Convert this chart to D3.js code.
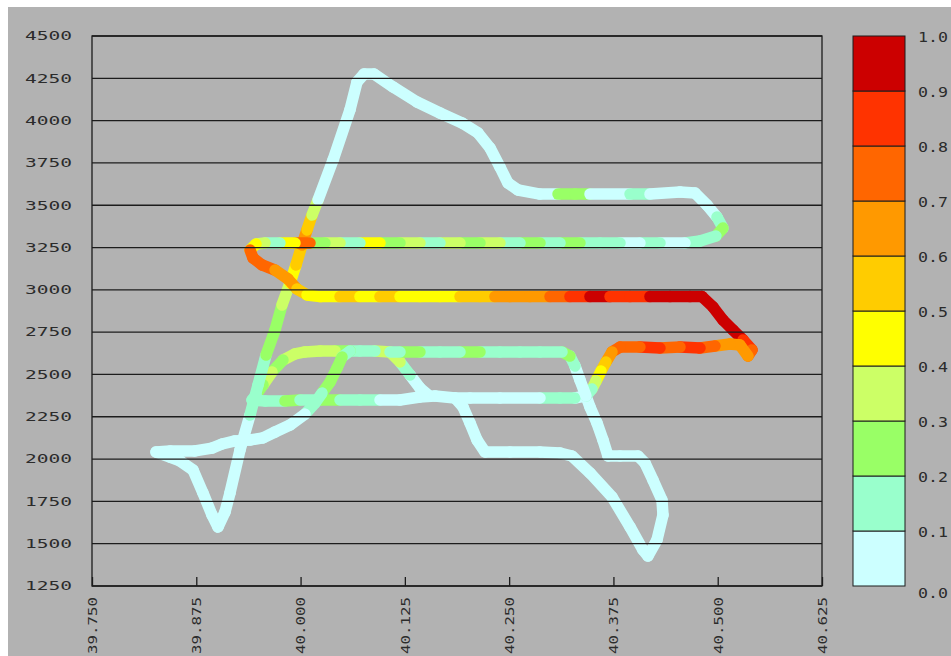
<!DOCTYPE html>
<html>
<head>
<meta charset="utf-8">
<script src="https://cdn.jsdelivr.net/npm/d3@7"></script>
<style>
  html, body { margin: 0; padding: 0; background: #ffffff; overflow: hidden; }
  svg { display: block; }
</style>
</head>
<body>
<svg id="chart" width="951" height="656"></svg>
<script>
// Axis ticks
const xTicks = [39.750, 39.875, 40.000, 40.125, 40.250, 40.375, 40.500, 40.625];
const yTicks = [1250, 1500, 1750, 2000, 2250, 2500, 2750, 3000, 3250, 3500, 3750, 4000, 4250, 4500];

// Colour classes of the value scale
const colorBreaks = [0.1, 0.2, 0.3, 0.4, 0.5, 0.6, 0.7, 0.8, 0.9];
const binColors = ["#ccffff", "#99ffcc", "#99ff66", "#ccff66", "#ffff00",
                   "#ffcc00", "#ff9900", "#ff6600", "#ff3300", "#cc0000"];
const legendLabels = [0.0, 0.1, 0.2, 0.3, 0.4, 0.5, 0.6, 0.7, 0.8, 0.9, 1.0];

// Track samples: [latitude, altitude, value]
const trackA = [
  [40.0592, 2639, 0.17], [40.0497, 2603, 0.25], [40.0437, 2538, 0.25], [40.0353, 2455, 0.25],
  [40.0257, 2390, 0.15], [40.0173, 2331, 0.12], [40.0053, 2266, 0.05], [39.9873, 2201, 0.05],
  [39.9694, 2160, 0.05], [39.9550, 2125, 0.05], [39.9394, 2113, 0.05], [39.9214, 2107, 0.05],
  [39.9058, 2089, 0.05], [39.8938, 2065, 0.05], [39.8735, 2048, 0.05], [39.8435, 2048, 0.05],
  [39.8267, 2042, 0.05], [39.8435, 2012, 0.05], [39.8555, 1989, 0.05], [39.8711, 1935, 0.05],
  [39.8830, 1800, 0.05], [39.8938, 1670, 0.05], [39.9010, 1599, 0.05], [39.9094, 1687, 0.05],
  [39.9154, 1800, 0.05], [39.9274, 2054, 0.05], [39.9394, 2260, 0.15], [39.9490, 2438, 0.15],
  [39.9586, 2615, 0.25], [39.9694, 2763, 0.25], [39.9777, 2910, 0.35], [39.9873, 3040, 0.45],
  [39.9945, 3147, 0.55], [40.0017, 3265, 0.65], [40.0077, 3354, 0.55], [40.0137, 3442, 0.35],
  [40.0209, 3531, 0.05], [40.0389, 3767, 0.05], [40.0592, 4063, 0.05], [40.0676, 4228, 0.05],
  [40.0760, 4275, 0.05], [40.0880, 4275, 0.05], [40.1108, 4199, 0.05], [40.1396, 4110, 0.05],
  [40.1671, 4045, 0.05], [40.1935, 3986, 0.05], [40.2127, 3927, 0.05], [40.2271, 3838, 0.05],
  [40.2390, 3726, 0.05], [40.2486, 3631, 0.05], [40.2606, 3590, 0.05], [40.2870, 3566, 0.05],
  [40.3086, 3566, 0.25], [40.3289, 3566, 0.22], [40.3469, 3566, 0.05], [40.3949, 3566, 0.15],
  [40.4188, 3566, 0.05], [40.4548, 3578, 0.05], [40.4728, 3572, 0.05], [40.4872, 3501, 0.05],
  [40.4991, 3430, 0.15], [40.5063, 3365, 0.25], [40.4979, 3318, 0.18], [40.4788, 3289, 0.15],
  [40.4608, 3277, 0.05], [40.4308, 3277, 0.15], [40.4068, 3277, 0.05], [40.3829, 3277, 0.18],
  [40.3589, 3277, 0.15], [40.3349, 3277, 0.25], [40.3110, 3277, 0.18], [40.2870, 3277, 0.28],
  [40.2630, 3277, 0.15], [40.2390, 3277, 0.35], [40.2151, 3277, 0.25], [40.1911, 3277, 0.32],
  [40.1671, 3277, 0.15], [40.1431, 3277, 0.35], [40.1192, 3277, 0.25], [40.0952, 3277, 0.45],
  [40.0712, 3277, 0.15], [40.0473, 3277, 0.35], [40.0293, 3277, 0.25], [40.0113, 3277, 0.75],
  [39.9933, 3277, 0.45], [39.9753, 3277, 0.15], [39.9574, 3277, 0.35], [39.9466, 3271, 0.45],
  [39.9394, 3235, 0.75], [39.9430, 3188, 0.78], [39.9538, 3147, 0.72], [39.9694, 3117, 0.68],
  [39.9849, 3064, 0.62], [39.9957, 3005, 0.58], [40.0077, 2970, 0.48], [40.0233, 2960, 0.45],
  [40.0473, 2960, 0.58], [40.0712, 2960, 0.45], [40.0952, 2960, 0.55], [40.1192, 2960, 0.45],
  [40.1431, 2960, 0.48], [40.1671, 2960, 0.45], [40.1911, 2960, 0.55], [40.2151, 2960, 0.52],
  [40.2330, 2960, 0.62], [40.2510, 2960, 0.65], [40.2750, 2960, 0.68], [40.2990, 2960, 0.75],
  [40.3229, 2960, 0.82], [40.3469, 2960, 0.92], [40.3709, 2960, 0.85], [40.3949, 2960, 0.88],
  [40.4188, 2960, 0.92], [40.4428, 2960, 0.95], [40.4668, 2960, 0.95], [40.4812, 2960, 0.95],
  [40.4943, 2899, 0.95], [40.5063, 2822, 0.95], [40.5183, 2763, 0.92], [40.5303, 2704, 0.85],
  [40.5411, 2645, 0.72], [40.5363, 2609, 0.68], [40.5267, 2674, 0.65], [40.5147, 2680, 0.65],
  [40.4968, 2668, 0.78], [40.4788, 2656, 0.82], [40.4548, 2662, 0.78], [40.4308, 2656, 0.85],
  [40.4068, 2662, 0.78], [40.3829, 2662, 0.75], [40.3733, 2633, 0.68], [40.3661, 2574, 0.55],
  [40.3601, 2520, 0.45], [40.3541, 2461, 0.35], [40.3493, 2414, 0.15], [40.3421, 2373, 0.05],
  [40.3349, 2467, 0.05], [40.3289, 2550, 0.12], [40.3229, 2609, 0.25], [40.3134, 2633, 0.18],
  [40.2870, 2633, 0.15], [40.2630, 2633, 0.17], [40.2390, 2633, 0.15], [40.2151, 2633, 0.25],
  [40.1911, 2633, 0.15], [40.1671, 2633, 0.15], [40.1431, 2633, 0.25], [40.1192, 2633, 0.17],
  [40.1072, 2633, 0.30]
];

const trackB = [
  [40.1527, 2379, 0.05], [40.1431, 2420, 0.08], [40.1312, 2497, 0.15], [40.1192, 2574, 0.32],
  [40.1072, 2633, 0.35], [40.0892, 2639, 0.18], [40.0712, 2639, 0.15], [40.0592, 2639, 0.25],
  [40.0413, 2639, 0.35], [40.0233, 2639, 0.35], [40.0053, 2633, 0.32], [39.9933, 2621, 0.35],
  [39.9789, 2585, 0.28], [39.9658, 2515, 0.33], [39.9550, 2438, 0.25], [39.9466, 2379, 0.18],
  [39.9418, 2349, 0.15], [39.9574, 2343, 0.16], [39.9813, 2343, 0.26], [39.9993, 2349, 0.15],
  [40.0233, 2349, 0.22], [40.0473, 2349, 0.15], [40.0712, 2349, 0.16], [40.0952, 2349, 0.07],
  [40.1192, 2349, 0.05], [40.1431, 2367, 0.05], [40.1611, 2373, 0.05], [40.1851, 2361, 0.05],
  [40.1947, 2308, 0.05], [40.2031, 2213, 0.05], [40.2115, 2113, 0.05], [40.2211, 2042, 0.05],
  [40.2510, 2042, 0.05], [40.2870, 2042, 0.05], [40.3110, 2036, 0.05], [40.3253, 2018, 0.05],
  [40.3469, 1918, 0.05], [40.3733, 1776, 0.05], [40.3949, 1599, 0.05], [40.4104, 1463, 0.05],
  [40.4164, 1427, 0.05], [40.4272, 1522, 0.05], [40.4344, 1670, 0.05], [40.4332, 1758, 0.05],
  [40.4224, 1876, 0.05], [40.4128, 1977, 0.05], [40.4045, 2018, 0.05], [40.3829, 2018, 0.05],
  [40.3685, 2018, 0.05], [40.3625, 2113, 0.05], [40.3553, 2213, 0.05], [40.3469, 2308, 0.05],
  [40.3421, 2373, 0.05], [40.3289, 2361, 0.15], [40.3110, 2361, 0.12], [40.2870, 2361, 0.05],
  [40.2390, 2361, 0.05], [40.2031, 2361, 0.05], [40.1851, 2361, 0.05]
];

const W = 951, H = 656;
const plot = { left: 92, right: 822, top: 36, bottom: 586 };
const ink = "#1c1c1c";
const labelFont = "'DejaVu Sans Mono', monospace";

const svg = d3.select("#chart");

// grey canvas
svg.append("rect")
  .attr("x", 8).attr("y", 7).attr("width", W - 8).attr("height", H - 7)
  .attr("fill", "#b2b2b2");

const x = d3.scaleLinear().domain([39.75, 40.625]).range([plot.left, plot.right]);
const y = d3.scaleLinear().domain([1250, 4500]).range([plot.bottom, plot.top]);
const color = d3.scaleThreshold().domain(colorBreaks).range(binColors);

// tracks, one segment per sample pair, coloured by the first sample
const gTracks = svg.append("g");
[trackB, trackA].forEach(track => {
  gTracks.append("g").selectAll("line")
    .data(d3.pairs(track))
    .join("line")
    .attr("x1", d => x(d[0][0])).attr("y1", d => y(d[0][1]))
    .attr("x2", d => x(d[1][0])).attr("y2", d => y(d[1][1]))
    .attr("stroke", d => color(d[0][2]))
    .attr("stroke-width", 11.5)
    .attr("stroke-linecap", "round");
});

// horizontal grid lines over the tracks
svg.append("g").selectAll("line")
  .data(yTicks)
  .join("line")
  .attr("x1", plot.left).attr("x2", plot.right)
  .attr("y1", d => y(d)).attr("y2", d => y(d))
  .attr("stroke", ink).attr("stroke-width", 1.3);

// frame
svg.append("rect")
  .attr("x", plot.left).attr("y", plot.top)
  .attr("width", plot.right - plot.left).attr("height", plot.bottom - plot.top)
  .attr("fill", "none").attr("stroke", ink).attr("stroke-width", 1.3);

// x axis: inward ticks, vertical labels
const xAxis = svg.append("g")
  .attr("transform", `translate(0,${plot.bottom})`)
  .call(d3.axisBottom(x).tickValues(xTicks).tickSize(-9).tickFormat(d3.format(".3f")));
xAxis.select(".domain").remove();
xAxis.selectAll(".tick line").attr("stroke", ink).attr("stroke-width", 1.3);
xAxis.selectAll(".tick text")
  .attr("transform", "rotate(-90)")
  .attr("x", -11).attr("y", 0).attr("dy", "0.36em")
  .attr("text-anchor", "end")
  .attr("font-family", labelFont).attr("font-size", 12)
  .attr("fill", "#2b2b2b")
  .attr("textLength", 57).attr("lengthAdjust", "spacingAndGlyphs");

// y axis labels
const yAxis = svg.append("g")
  .attr("transform", `translate(${plot.left},0)`)
  .call(d3.axisLeft(y).tickValues(yTicks).tickSize(0).tickPadding(20).tickFormat(d3.format("d")));
yAxis.select(".domain").remove();
yAxis.selectAll(".tick text")
  .attr("font-family", labelFont).attr("font-size", 12)
  .attr("fill", "#2b2b2b")
  .attr("textLength", 47).attr("lengthAdjust", "spacingAndGlyphs");

// colour bar
const cb = d3.scaleLinear().domain([0, 1]).range([plot.bottom, plot.top]);
const gBar = svg.append("g");
gBar.selectAll("rect")
  .data(binColors)
  .join("rect")
  .attr("x", 853).attr("width", 52)
  .attr("y", (c, i) => cb((i + 1) / 10))
  .attr("height", (c, i) => cb(i / 10) - cb((i + 1) / 10))
  .attr("fill", c => c)
  .attr("stroke", ink).attr("stroke-width", 1);

gBar.selectAll("text")
  .data(legendLabels)
  .join("text")
  .attr("x", 918)
  .attr("y", d => cb(d) + (d === 0 ? 7 : 1))
  .attr("dy", "0.36em")
  .attr("font-family", labelFont).attr("font-size", 14)
  .attr("fill", "#2b2b2b")
  .attr("textLength", 30).attr("lengthAdjust", "spacingAndGlyphs")
  .text(d => d3.format(".1f")(d));
</script>
</body>
</html>
